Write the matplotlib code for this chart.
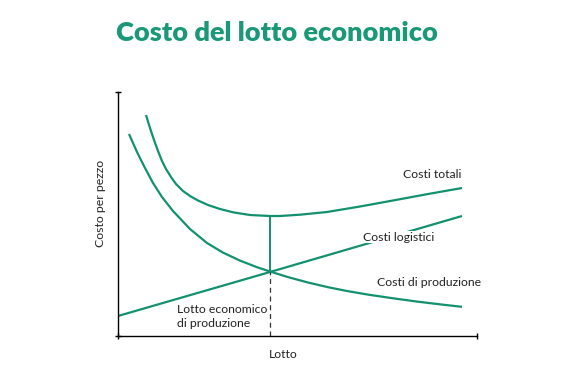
import numpy as np
import matplotlib.pyplot as plt

plt.rcParams['font.family'] = ['Lato', 'DejaVu Sans']

GREEN = '#13916f'

# curve readings (lotto, costo per pezzo)
prod_x = [11, 19, 27, 35, 44, 55, 72, 89, 105, 122, 139, 152, 170, 190, 210, 230, 250, 275, 300, 325, 344]
prod_y = [202, 184, 168, 153, 139, 125, 107, 93, 83.4, 75.4, 68.8, 64.5, 58.9, 53.5, 48.8, 44.8, 41.4,
          37.7, 34.3, 31.3, 29.2]

tot_x = [28, 32, 36, 40, 44, 48, 53, 58, 65, 72, 80, 90, 102, 116, 132, 152, 162, 182, 209, 242, 275, 309, 344]
tot_y = [221, 208, 196, 185, 175, 167, 159, 152, 145, 140, 135.5, 131, 127, 123.5, 121, 120, 120, 121.3, 124,
         129.5, 135.5, 141.8, 148]

log_x = [0, 152, 344]
log_y = [20, 64, 120]

eoq_x = 152
x_max, y_max = 359, 244

fig = plt.figure(figsize=(5.67, 3.83), dpi=100)
ax = fig.add_axes([118 / 567, 1 - 336 / 383, x_max / 567, y_max / 383])

for xs, ys in [(prod_x, prod_y), (tot_x, tot_y), (log_x, log_y)]:
    ax.plot(xs, ys, color=GREEN, lw=1.6, solid_capstyle='butt', solid_joinstyle='round')

# optimum lot: vertical from the crossing point up to the total cost
y_cross = np.interp(eoq_x, prod_x, prod_y)
y_top = np.interp(eoq_x, tot_x, tot_y)
ax.plot([eoq_x, eoq_x], [y_cross, y_top], color=GREEN, lw=1.4)
ax.plot([eoq_x, eoq_x], [0, y_cross], color='#333333', lw=0.9, ls=(0, (4, 3)))

txt = dict(fontsize=8.8, color='#222222', va='center', ha='left')
ax.text(285, 162, 'Costi totali', **txt)
ax.text(245, 99, 'Costi logistici', bbox=dict(facecolor='white', edgecolor='none', pad=0.6), zorder=5, **txt)
ax.text(259, 53, 'Costi di produzione', **txt)
ax.text(59, 19.5, 'Lotto economico\ndi produzione', linespacing=1.4, **txt)

ax.set_xlim(0, x_max)
ax.set_ylim(0, y_max)
for s in ['top', 'right']:
    ax.spines[s].set_visible(False)
for s in ['left', 'bottom']:
    ax.spines[s].set_linewidth(1.0)
ax.set_xticks([0, x_max])
ax.set_yticks([0, y_max])
ax.tick_params(direction='inout', length=5, width=1.0, labelbottom=False, labelleft=False)

fig.text(0.5, 1 - 354 / 383, 'Lotto', fontsize=8.8, color='#222222', ha='center', va='center')
fig.text(100 / 567, 1 - 203 / 383, 'Costo per pezzo', rotation=90, fontsize=8.8,
         color='#222222', ha='center', va='center')
fig.text(276.5 / 567, 1 - 33 / 383, 'Costo del lotto economico', fontsize=19.5,
         fontweight='heavy', color='#1a9878', ha='center', va='center')

fig.savefig('out.png', dpi=100)
